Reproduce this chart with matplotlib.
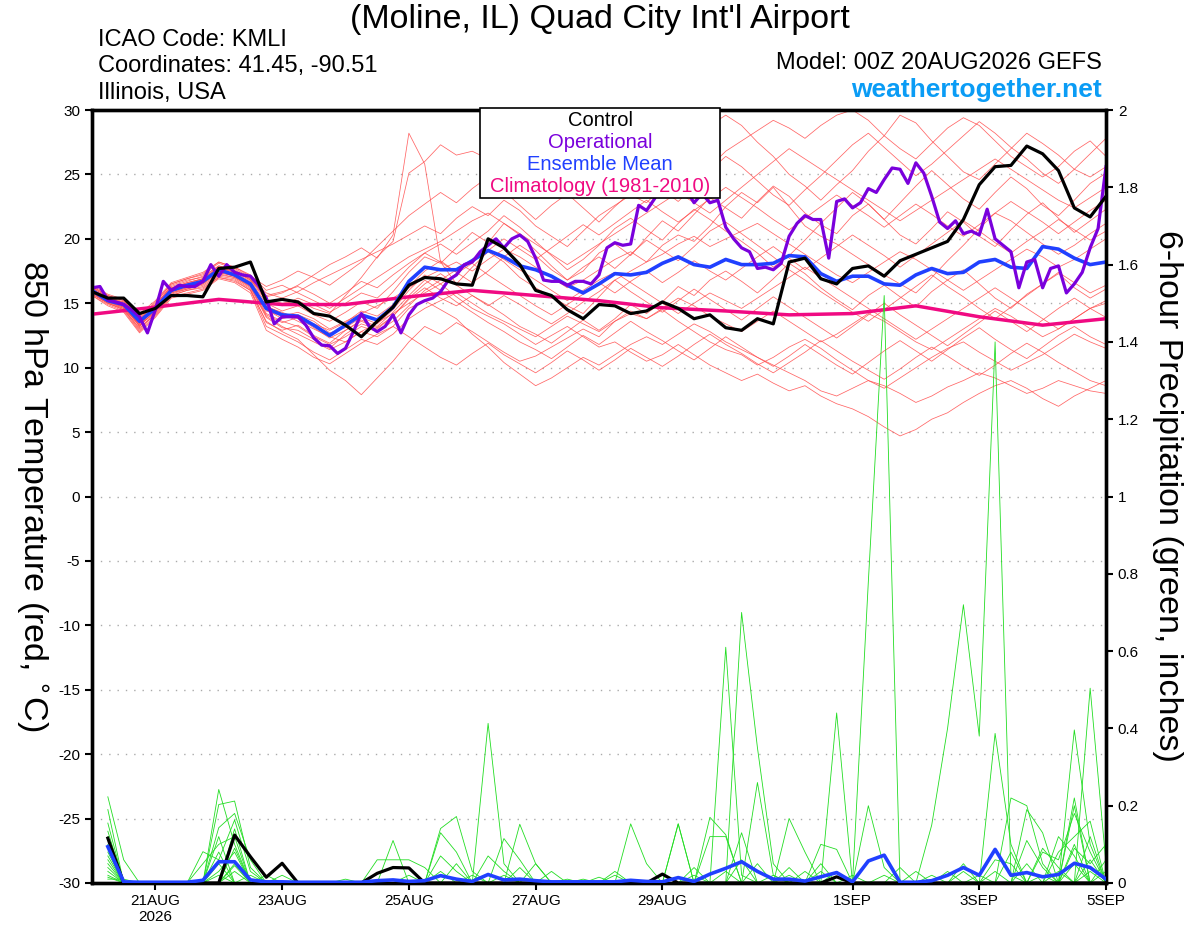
import numpy as np
import matplotlib
matplotlib.use("Agg")
from matplotlib import pyplot as plt
from matplotlib.patches import Rectangle

plt.rcParams['font.family'] = ['Liberation Sans', 'DejaVu Sans']
plt.rcParams['axes.unicode_minus'] = False

# 6-hourly times (hours after 00Z 20AUG2026)
hours6 = np.arange(0, 385, 6)
hours3 = np.arange(0, 385, 3)
hours_precip = np.arange(6, 385, 6)

# x tick labels
tick_hours = [24, 72, 120, 168, 216, 288, 336, 384]
tick_labels = ["21AUG\n2026", "23AUG", "25AUG", "27AUG", "29AUG", "1SEP", "3SEP", "5SEP"]

# control (black), 850 hPa temperature
control_t = [15.9, 15.4, 15.4, 14.2, 14.6, 15.6, 15.6, 15.5, 17.7, 17.8, 18.2,
             15.1, 15.3, 15.1, 14.2, 14.0, 13.3, 12.4, 13.6, 14.7, 16.4,
             17.0, 16.9, 16.5, 16.4, 20.0, 19.3, 18.0, 16.0, 15.6, 14.5,
             13.8, 14.9, 14.8, 14.2, 14.4, 15.1, 14.6, 13.8, 14.1, 13.1,
             12.9, 13.8, 13.4, 18.2, 18.5, 16.9, 16.5, 17.7, 17.9, 17.1,
             18.3, 18.8, 19.3, 19.8, 21.5, 24.2, 25.6, 25.7, 27.2, 26.6,
             25.3, 22.4, 21.7, 23.3]

# ensemble mean (blue)
mean_t = [16.0, 15.2, 14.9, 13.6, 14.6, 16.0, 16.4, 16.7, 17.6, 17.2, 16.5,
          14.6, 14.1, 14.0, 13.3, 12.5, 13.3, 14.1, 13.7, 14.7, 16.7,
          17.8, 17.6, 17.6, 18.3, 19.1, 18.6, 17.9, 17.6, 17.1, 16.4,
          15.8, 16.5, 17.3, 17.2, 17.4, 18.1, 18.6, 18.0, 17.8, 18.4,
          18.0, 18.0, 18.1, 18.7, 18.6, 17.3, 16.7, 17.1, 17.1, 16.5,
          16.4, 17.2, 17.7, 17.3, 17.4, 18.2, 18.4, 17.8, 17.7, 19.4,
          19.2, 18.5, 18.0, 18.2]

# operational (purple), 3-hourly
oper_t = [16.2, 16.3, 15.25, 15.1, 14.9, 14.5, 13.95, 12.7, 14.5, 16.7, 16.0,
          16.4, 16.3, 16.3, 16.7, 18.0, 17.1, 18.0, 17.4, 17.2, 17.1, 16.4,
          15.4, 13.4, 13.95, 13.95, 13.95, 13.3, 12.3, 11.75, 11.7, 11.1,
          11.5, 12.8, 14.2, 13.2, 12.8, 13.2, 14.1, 12.7, 14.1, 14.9, 15.2,
          15.4, 15.9, 16.8, 17.2, 18.0, 18.2, 19.0, 19.5, 20.0, 19.3, 20.0,
          20.3, 19.8, 18.5, 16.8, 16.7, 16.7, 16.4, 16.7, 16.7, 16.5, 17.2,
          19.3, 19.7, 19.5, 19.6, 22.6, 22.2, 23.1, 24.2, 24.8, 24.5, 23.8,
          22.8, 23.5, 22.8, 23.0, 20.9, 20.0, 19.3, 19.0, 17.7,
          17.8, 17.6, 18.1, 20.2, 21.2, 21.8, 21.5, 21.5, 18.5, 22.9, 23.1,
          22.4, 22.8, 23.9, 23.6, 24.6, 25.5, 25.4, 24.3, 25.9, 25.1, 23.3,
          21.3, 20.8, 21.4, 20.4, 20.6, 20.3, 22.3, 20.0, 19.5, 19.0, 16.2,
          18.2, 18.4, 16.2, 17.7, 17.9, 15.8, 16.5, 17.4, 19.3, 20.8, 25.6]

# climatology (pink), daily
clim_hours = np.arange(0, 385, 24)
clim_t = [14.15, 14.7, 15.3, 14.9, 14.9, 15.5, 16.0, 15.6, 15.2, 14.65,
          14.4, 14.1, 14.2, 14.8, 13.95, 13.3, 13.8]

# ensemble members (red), 6-hourly
members_t = [
    [16.2, 15.5, 15.0, 13.2, 14.8, 16.4, 16.8, 17.0, 17.9, 17.5, 16.8,
     15.5, 15.8, 16.4, 17.2, 18.0, 18.6, 19.3, 18.5, 20.3, 28.2,
     25.8, 18.2, 16.5, 17.8, 19.0, 18.2, 17.0, 16.2, 15.5, 14.8, 14.2, 15.5, 16.8, 17.5, 18.2, 19.5, 20.3, 19.8, 21.0, 22.5,
     23.6, 22.8, 24.0, 22.5, 21.0, 20.2, 19.6, 18.8, 18.0, 17.2, 16.5, 15.8, 17.0, 18.3, 19.5, 20.8, 22.0, 21.4, 20.5, 19.6, 18.8, 19.5, 20.4, 21.2],
    [15.9, 15.3, 15.1, 13.8, 14.9, 16.2, 16.5, 16.9, 17.8, 17.4, 16.9,
     15.3, 15.0, 15.2, 14.6, 14.2, 15.6, 17.0, 18.6, 19.8, 25.1,
     26.0, 27.3, 26.5, 26.8, 26.2, 27.4, 26.0, 25.4, 24.8, 23.9, 24.6, 25.5, 26.3, 25.7, 26.8, 27.5, 28.4, 27.6, 28.8, 29.6,
     28.8, 27.5, 26.4, 25.0, 24.1, 23.0, 24.2, 25.3, 26.8, 28.0, 29.6, 29.0, 27.6, 26.4, 25.2, 24.6, 25.8, 27.0, 28.2, 27.4, 26.5, 25.4, 24.8, 25.6],
    [15.7, 15.0, 14.5, 12.9, 14.2, 15.6, 16.0, 16.2, 17.0, 16.8, 16.0,
     13.6, 12.8, 12.2, 11.0, 9.8, 9.0, 7.9, 9.2, 10.5, 12.0,
     13.2, 12.6, 13.5, 12.8, 12.0, 11.2, 10.5, 10.9, 11.6, 12.3, 13.0, 12.4, 13.6, 14.2, 13.8, 14.5, 13.6, 12.8, 12.0, 11.4,
     11.0, 10.2, 10.8, 11.6, 12.2, 11.5, 10.6, 9.8, 9.0, 8.4, 9.2, 10.0, 10.8, 11.5, 12.0, 11.2, 10.5, 9.8, 10.4, 11.0, 11.8, 12.6, 12.0, 11.5],
    [16.1, 15.4, 14.8, 13.5, 14.6, 15.9, 16.3, 16.6, 17.4, 17.1, 16.4,
     14.8, 14.2, 13.6, 13.0, 12.4, 12.0, 12.8, 13.5, 14.2, 15.0,
     15.8, 16.5, 15.5, 14.6, 14.0, 13.4, 12.6, 11.8, 12.5, 13.2, 12.4, 11.6, 12.0, 11.2, 10.5, 11.0, 11.8, 11.0, 10.2, 9.6,
     9.0, 9.5, 8.8, 8.2, 8.6, 7.8, 7.2, 6.8, 6.2, 5.4, 4.7, 5.2, 6.0, 6.5, 7.3, 8.0, 8.6, 9.0, 8.4, 7.6, 7.0, 7.8, 8.4, 9.0],
    [15.8, 15.1, 14.6, 13.0, 14.3, 15.8, 16.1, 16.4, 17.2, 17.0, 16.3,
     14.0, 13.2, 12.6, 12.0, 11.4, 12.0, 12.8, 12.4, 13.2, 14.6,
     15.2, 14.5, 13.8, 12.6, 11.6, 10.4, 9.5, 8.6, 9.2, 10.0, 10.8, 10.2, 11.0, 11.8, 12.4, 11.8, 12.6, 13.4, 12.8, 12.0,
     11.4, 10.8, 10.2, 9.6, 9.0, 8.2, 7.8, 8.4, 9.0, 8.6, 8.0, 7.3, 7.8, 8.5, 9.0, 9.6, 9.2, 8.6, 8.0, 8.4, 9.0, 8.6, 8.2, 8.0],
    [16.3, 15.6, 15.2, 14.0, 15.0, 16.5, 16.9, 17.2, 18.1, 17.7, 17.0,
     15.8, 15.4, 15.9, 16.6, 17.2, 17.8, 18.4, 19.0, 19.6, 20.3,
     21.0, 20.4, 21.6, 22.5, 21.8, 23.0, 22.2, 21.0, 20.2, 19.4, 20.6, 21.8, 22.6, 23.4, 22.8, 24.0, 25.2, 24.6, 25.6, 26.8,
     27.6, 28.4, 29.2, 28.6, 27.8, 28.8, 29.6, 30.0, 29.2, 28.0, 27.0, 26.2, 27.4, 28.6, 29.4, 28.8, 27.6, 26.4, 25.6, 24.8, 25.6, 26.8, 27.6, 26.4],
    [16.0, 15.2, 14.8, 13.4, 14.5, 16.0, 16.4, 16.8, 17.6, 17.3, 16.6,
     14.4, 14.0, 14.3, 13.8, 13.0, 13.6, 14.2, 14.8, 15.4, 16.2,
     17.0, 17.6, 18.2, 17.5, 18.4, 19.2, 18.6, 17.8, 17.0, 16.2, 16.8, 17.6, 18.4, 19.0, 18.2, 18.8, 19.6, 20.2, 19.4, 20.0,
     20.6, 21.2, 20.4, 19.6, 18.8, 18.0, 17.2, 16.6, 17.4, 18.2, 19.0, 18.4, 17.6, 16.8, 16.0, 16.8, 17.6, 18.4, 19.2, 18.6, 17.8, 18.4, 19.2, 20.0],
    [15.6, 14.9, 14.4, 12.8, 14.0, 15.5, 15.8, 16.1, 17.0, 16.7, 16.0,
     13.2, 12.6, 12.0, 11.2, 10.6, 11.4, 12.2, 11.8, 12.6, 13.8,
     14.6, 15.2, 15.8, 15.0, 14.2, 13.6, 13.0, 12.4, 13.2, 14.0, 13.4, 12.8, 13.6, 14.4, 13.8, 14.6, 15.4, 14.8, 14.0, 13.4,
     12.8, 13.6, 14.4, 13.6, 12.8, 12.0, 12.6, 13.4, 14.2, 13.6, 12.8, 12.0, 11.4, 12.2, 13.0, 13.8, 14.6, 14.0, 13.2, 12.4, 13.0, 13.8, 14.6, 15.2],
    [16.4, 15.7, 15.3, 14.2, 15.2, 16.6, 17.0, 17.4, 18.2, 17.8, 17.2,
     16.0, 16.4, 15.8, 15.2, 14.6, 15.4, 16.2, 17.0, 17.8, 18.6,
     19.2, 19.8, 20.6, 21.4, 22.0, 21.2, 20.4, 19.6, 18.8, 18.0, 18.8, 19.6, 20.4, 21.2, 22.0, 22.8, 23.6, 22.8, 22.0, 23.0,
     24.0, 25.0, 26.0, 27.0, 26.2, 25.4, 24.6, 23.8, 23.0, 22.2, 21.4, 22.2, 23.0, 23.8, 24.6, 25.4, 26.2, 25.4, 24.6, 23.8, 23.0, 22.4, 23.2, 24.0],
    [15.9, 15.2, 14.7, 13.2, 14.4, 15.8, 16.2, 16.5, 17.5, 17.2, 16.5,
     14.2, 13.6, 13.2, 12.4, 11.8, 12.4, 13.2, 12.8, 13.6, 14.8,
     16.0, 16.8, 17.6, 18.4, 19.2, 18.4, 17.6, 16.8, 16.0, 15.2, 16.0, 16.8, 17.4, 16.6, 15.8, 15.0, 14.2, 15.0, 15.8, 15.2,
     14.6, 15.4, 16.2, 17.0, 17.8, 17.0, 16.2, 15.4, 14.6, 13.8, 13.0, 12.2, 13.0, 13.8, 14.6, 15.4, 16.2, 15.4, 14.6, 13.8, 13.0, 13.8, 14.6, 15.0],
    [16.1, 15.3, 15.0, 13.7, 14.7, 16.1, 16.6, 16.9, 17.7, 17.4, 16.7,
     15.0, 14.4, 14.8, 14.1, 13.6, 14.3, 15.1, 14.6, 15.9, 17.4,
     18.6, 18.1, 19.3, 20.5, 19.7, 21.2, 20.3, 19.1, 17.9, 16.8, 17.5, 18.9, 19.6, 18.7, 20.1, 21.4, 20.6, 21.9, 23.2, 22.4,
     21.6, 22.9, 24.1, 23.3, 22.0, 21.1, 20.4, 21.8, 22.7, 21.5, 20.3, 19.6, 20.8, 22.1, 21.3, 20.2, 19.4, 20.7, 21.9, 22.8, 21.6, 20.5, 21.4, 22.3],
    [15.8, 15.0, 14.6, 13.3, 14.3, 15.7, 16.1, 16.5, 17.3, 17.0, 16.2,
     13.9, 13.1, 12.9, 12.2, 11.5, 12.6, 13.4, 13.0, 14.0, 15.3,
     16.2, 15.4, 14.8, 15.6, 14.9, 14.1, 13.2, 12.6, 11.9, 12.8, 13.7, 12.9, 13.8, 14.9, 14.2, 15.1, 16.3, 15.6, 16.8, 17.5,
     16.7, 15.8, 16.9, 18.1, 17.3, 16.2, 15.3, 14.5, 15.6, 16.4, 15.5, 14.7, 15.9, 16.8, 17.6, 16.5, 15.4, 14.6, 15.7, 16.5, 17.3, 16.2, 15.4, 16.1],
    [16.2, 15.5, 15.1, 13.9, 14.9, 16.3, 16.7, 17.1, 17.9, 17.6, 16.9,
     15.6, 15.9, 16.3, 15.7, 15.0, 15.8, 16.7, 16.2, 17.2, 18.1,
     18.9, 19.6, 18.8, 19.7, 20.6, 21.8, 20.9, 19.8, 18.7, 17.6, 18.4, 19.5, 20.8, 21.6, 20.7, 19.9, 21.2, 22.3, 21.5, 20.6,
     19.8, 18.9, 17.8, 18.7, 19.9, 21.2, 22.4, 23.6, 22.7, 21.5, 22.8, 24.1, 25.3, 24.2, 23.1, 22.3, 23.6, 24.8, 23.9, 22.6, 21.8, 23.0, 24.3, 25.1],
    [15.7, 15.0, 14.5, 13.1, 14.1, 15.6, 16.0, 16.3, 17.1, 16.9, 16.1,
     13.5, 12.9, 13.3, 12.5, 11.9, 12.9, 13.7, 13.2, 14.3, 15.6,
     16.8, 16.0, 15.1, 14.3, 13.5, 12.8, 12.0, 11.4, 10.7, 11.6, 12.5, 11.8, 12.7, 13.6, 12.8, 12.1, 11.3, 10.6, 11.5, 12.4,
     11.6, 10.8, 10.1, 10.9, 11.8, 11.0, 10.2, 9.5, 10.4, 11.3, 12.1, 11.3, 10.5, 11.4, 12.3, 13.1, 12.2, 11.4, 10.7, 11.6, 12.5, 13.2, 12.4, 11.8],
    [16.0, 15.3, 14.9, 13.6, 14.6, 16.1, 16.4, 16.8, 17.6, 17.3, 16.6,
     14.7, 14.3, 13.8, 13.4, 12.9, 13.5, 14.4, 14.0, 14.9, 16.3,
     17.5, 18.3, 17.4, 16.6, 17.5, 18.6, 19.5, 18.7, 17.6, 16.8, 17.8, 18.6, 17.7, 18.8, 19.9, 19.1, 18.3, 19.4, 20.6, 21.3,
     20.4, 19.5, 18.6, 17.6, 16.8, 15.9, 15.1, 14.3, 13.6, 14.5, 15.4, 16.3, 17.2, 16.3, 15.5, 14.6, 13.8, 14.7, 15.6, 16.5, 17.4, 16.6, 15.8, 16.4],
    [16.3, 15.6, 15.2, 14.0, 15.1, 16.5, 16.9, 17.3, 18.2, 17.8, 17.1,
     16.3, 16.8, 17.5, 17.0, 16.4, 17.3, 18.2, 19.4, 20.6, 21.8,
     22.7, 23.6, 22.8, 23.9, 24.8, 23.7, 22.6, 21.5, 22.6, 23.5, 22.4, 21.3, 22.5, 23.6, 24.7, 23.8, 22.9, 24.1, 25.3, 26.4,
     25.6, 24.5, 23.4, 22.6, 23.8, 24.9, 26.1, 27.3, 28.2, 27.1, 26.0, 24.9, 25.8, 26.9, 28.0, 29.1, 28.2, 27.1, 26.2, 25.1, 24.3, 25.4, 26.6, 27.8],
    [15.9, 15.1, 14.7, 13.3, 14.4, 15.9, 16.3, 16.6, 17.5, 17.1, 16.4,
     14.5, 13.8, 14.1, 13.6, 12.7, 13.1, 13.9, 13.4, 14.5, 16.0,
     17.2, 16.5, 17.3, 18.1, 17.2, 16.4, 15.6, 14.8, 14.1, 14.9, 15.7, 16.6, 15.8, 16.7, 17.5, 16.6, 17.4, 18.3, 17.5, 16.8,
     17.7, 18.6, 19.4, 18.5, 17.6, 18.5, 19.4, 20.3, 19.5, 18.7, 17.8, 18.7, 19.6, 20.5, 21.4, 20.6, 19.7, 18.9, 19.8, 20.6, 21.5, 20.7, 19.9, 20.6],
    [15.6, 14.8, 14.3, 12.7, 13.9, 15.4, 15.7, 16.0, 16.9, 16.6, 15.8,
     12.9, 12.2, 11.6, 10.8, 10.3, 11.1, 11.9, 12.6, 13.2, 12.4,
     11.6, 10.8, 10.2, 11.1, 11.9, 11.0, 10.3, 9.6, 10.4, 11.3, 10.6, 9.8, 10.6, 11.5, 10.8, 10.1, 10.9, 11.8, 12.6, 11.8,
     11.1, 10.3, 9.6, 10.4, 11.2, 12.1, 11.3, 10.5, 9.8, 9.1, 9.9, 10.8, 11.6, 10.9, 10.1, 9.4, 10.2, 11.1, 11.9, 11.2, 10.4, 9.7, 9.0, 8.6],
    [16.1, 15.4, 15.0, 13.8, 14.8, 16.2, 16.6, 16.9, 17.8, 17.5, 16.8,
     15.2, 14.8, 15.4, 14.9, 14.3, 15.0, 15.8, 15.4, 16.5, 17.8,
     18.9, 18.2, 17.4, 18.3, 19.1, 20.0, 19.2, 18.4, 19.3, 20.2, 21.1, 20.3, 21.2, 22.1, 23.0, 22.1, 21.3, 22.2, 23.1, 24.0,
     23.2, 22.4, 21.5, 20.7, 21.6, 22.5, 23.4, 22.6, 21.8, 20.9, 21.8, 22.7, 21.9, 21.0, 20.2, 21.1, 22.0, 22.9, 22.1, 21.3, 20.4, 21.3, 22.2, 23.0],
    [15.8, 15.1, 14.7, 13.4, 14.5, 15.9, 16.2, 16.6, 17.4, 17.1, 16.3,
     14.1, 13.5, 13.9, 13.1, 12.3, 12.9, 13.6, 13.1, 14.0, 15.4,
     16.5, 17.3, 16.4, 15.6, 14.8, 15.6, 14.9, 14.1, 13.4, 14.2, 15.1, 15.9, 16.8, 15.9, 15.1, 14.3, 15.2, 16.1, 15.3, 14.5,
     13.7, 14.6, 15.5, 14.7, 13.9, 13.1, 12.3, 13.2, 14.1, 15.0, 14.1, 13.3, 12.5, 11.7, 12.6, 13.5, 14.4, 13.6, 12.8, 13.7, 14.6, 15.4, 14.6, 13.9],
]

# 6-hour precipitation (inches), from 06Z 20AUG
control_p = [0.116, 0, 0, 0, 0, 0, 0, 0, 0.124, 0.068, 0.015, 0.051, 0, 0, 0, 0,
             0, 0.025, 0.04, 0.039, 0, 0, 0, 0, 0, 0, 0, 0, 0, 0, 0, 0,
             0, 0, 0, 0.023, 0, 0, 0, 0, 0, 0, 0, 0, 0, 0, 0.016, 0,
             0, 0, 0, 0, 0, 0, 0, 0, 0, 0, 0, 0, 0, 0, 0, 0]

mean_p = [0.094, 0.003, 0.002, 0.002, 0.002, 0.002, 0.007, 0.055, 0.055, 0.008, 0.003, 0.003, 0.002, 0.002, 0.002, 0.002,
          0.002, 0.006, 0.008, 0.004, 0.006, 0.019, 0.01, 0.004, 0.022, 0.008, 0.01, 0.006, 0.003, 0.003, 0.003, 0.003,
          0.003, 0.007, 0.004, 0.003, 0.014, 0.004, 0.023, 0.038, 0.055, 0.03, 0.01, 0.01, 0.005, 0.016, 0.027, 0.003,
          0.057, 0.072, 0.002, 0.002, 0.006, 0.02, 0.04, 0.02, 0.087, 0.02, 0.027, 0.016, 0.022, 0.051, 0.04, 0.01]

members_p = [
    [.223, .06, 0, 0, 0, 0, 0, .242, .10, 0, 0, 0, 0, 0, 0, 0,
     0, 0, 0, 0, 0, .141, .172, .03, 0, 0, 0, 0, 0, 0, 0, 0,
     0, 0, 0, 0, 0, 0, 0, .61, .02, 0, 0, 0, 0, 0, 0, 0,
     .78, 1.52, 0, 0, 0, 0, 0, 0, 0, 0, 0, 0, 0, .396, .1, 0],
    [.19, 0, 0, 0, 0, 0, 0, .203, .212, .04, 0, 0, 0, 0, 0, 0,
     0, 0, 0, 0, 0, 0, 0, 0, .413, .05, 0, 0, 0, 0, 0, 0,
     0, 0, 0, 0, 0, 0, 0, 0, .70, .35, .05, 0, 0, 0, 0, 0,
     0, 0, 0, 0, .15, .40, .72, .38, 1.40, .02, 0, 0, 0, 0, 0, 0],
    [.155, 0, 0, 0, 0, 0, 0, .143, .18, .06, 0, 0, 0, 0, 0, 0,
     0, 0, .11, 0, 0, 0, 0, 0, 0, 0, .152, .05, 0, 0, 0, 0,
     0, 0, 0, 0, 0, 0, .17, .125, 0, 0, 0, 0, 0, 0, .44, 0,
     0, 0, 0, 0, 0, 0, 0, 0, .387, .1, 0, 0, 0, 0, .504, .05],
    [.134, 0, 0, 0, 0, 0, .081, .06, .163, .03, 0, 0, 0, 0, 0, 0,
     0, 0, 0, 0, 0, .13, .08, 0, 0, 0, 0, 0, 0, 0, 0, 0,
     0, .153, .05, 0, 0, 0, 0, 0, 0, .26, .02, 0, 0, 0, 0, 0,
     0, 0, 0, 0, 0, 0, 0, 0, 0, .22, .2, .05, 0, .22, 0, 0],
    [.10, 0, 0, 0, 0, 0, .05, .10, .12, 0, 0, 0, 0, 0, 0, 0,
     0, .06, .06, .06, .04, 0, 0, 0, 0, 0, 0, 0, 0, 0, 0, 0,
     0, 0, 0, 0, .153, 0, 0, 0, 0, 0, 0, .167, .08, 0, 0, 0,
     .2, .04, 0, 0, 0, 0, 0, 0, 0, 0, .19, .13, 0, .2, 0, 0],
    [.05, 0, 0, 0, 0, 0, 0, .03, .08, 0, 0, 0, 0, 0, 0, 0,
     0, 0, 0, 0, 0, 0, 0, 0, 0, .115, .06, 0, 0, 0, 0, 0,
     0, 0, 0, 0, .153, 0, 0, 0, .13, 0, 0, 0, 0, .10, .087, 0,
     0, 0, 0, 0, 0, 0, 0, 0, 0, 0, 0, 0, .08, .12, .16, 0],
    [.04, 0, 0, 0, 0, 0, 0, 0, .05, 0, .02, 0, 0, 0, 0, 0,
     0, 0, 0, 0, 0, .07, .03, 0, 0, 0, 0, 0, 0, 0, 0, 0,
     .03, 0, 0, 0, 0, 0, .12, .12, 0, 0, 0, 0, .03, 0, 0, 0,
     0, 0, .04, 0, 0, 0, .03, 0, 0, 0, 0, .08, .06, .18, .08, 0],
    [.03, 0, 0, 0, 0, 0, 0, .05, 0, 0, 0, .02, 0, 0, 0, 0,
     0, 0, 0, 0, 0, 0, 0, 0, .07, .03, 0, .05, 0, 0, 0, .015,
     0, 0, 0, .02, 0, 0, 0, 0, 0, 0, 0, .04, 0, .05, 0, 0,
     0, 0, 0, 0, 0, .03, 0, .02, 0, 0, .11, .04, 0, .09, .05, .1],
    [.02, 0, 0, 0, 0, 0, 0, 0, .03, 0, 0, 0, 0, 0, 0, .01,
     0, 0, 0, 0, 0, 0, 0, 0, 0, 0, 0, 0, .03, 0, .01, 0,
     0, 0, 0, 0, 0, .02, 0, 0, 0, .05, 0, 0, 0, 0, 0, .02,
     0, 0, 0, .03, 0, 0, 0, 0, .06, .05, 0, 0, .12, .07, 0, .03],
    [.01, .01, 0, 0, 0, 0, 0, .02, 0, .02, 0, 0, 0, 0, 0, 0,
     0, 0, 0, 0, 0, 0, 0, .02, 0, 0, .04, 0, 0, 0, 0, 0,
     0, 0, 0, 0, 0, 0, 0, .03, 0, 0, .02, 0, 0, 0, 0, 0,
     0, .02, 0, 0, .02, 0, 0, 0, 0, 0, 0, .09, .04, 0, .06, 0],
    [.07, 0, 0, 0, 0, 0, 0, 0, .09, 0, 0, 0, 0, 0, 0, 0,
     0, 0, 0, 0, 0, .03, 0, 0, 0, 0, 0, 0, 0, .01, 0, 0,
     0, 0, 0, 0, 0, 0, 0, 0, 0, 0, 0, 0, 0, .03, 0, 0,
     0, 0, 0, 0, 0, 0, 0, 0, 0, .08, 0, 0, 0, .1, 0, 0],
    [.08, 0, 0, 0, 0, 0, 0, .12, 0, 0, 0, 0, 0, 0, 0, 0,
     0, 0, 0, .02, 0, 0, 0, 0, 0, 0, 0, 0, 0, 0, 0, 0,
     0, 0, 0, 0, 0, 0, 0, 0, .06, 0, 0, 0, 0, 0, 0, 0,
     0, 0, 0, 0, 0, 0, .05, 0, 0, 0, 0, 0, .03, 0, .12, 0],
    [.015, 0, 0, 0, 0, 0, 0, 0, .14, 0, 0, 0, 0, 0, 0, 0,
     0, 0, 0, 0, 0, 0, .05, 0, 0, 0, 0, 0, 0, 0, 0, 0,
     0, 0, 0, 0, 0, .04, 0, 0, 0, 0, 0, 0, 0, 0, 0, 0,
     0, 0, 0, 0, 0, 0, 0, 0, 0, 0, .05, 0, 0, 0, 0, .06],
    [.06, 0, 0, 0, 0, 0, 0, .08, 0, 0, 0, 0, 0, 0, 0, 0,
     0, 0, 0, 0, 0, 0, 0, 0, 0, .02, 0, 0, 0, 0, 0, 0,
     0, 0, 0, 0, 0, 0, 0, 0, 0, 0, 0, .02, 0, 0, 0, 0,
     0, 0, 0, 0, 0, 0, 0, 0, .03, 0, 0, 0, 0, .05, 0, 0],
    [.12, 0, 0, 0, 0, 0, 0, 0, .045, 0, 0, 0, 0, 0, 0, 0,
     0, 0, 0, 0, 0, 0, 0, 0, 0, 0, 0, 0, 0, 0, 0, 0,
     .02, 0, 0, 0, 0, 0, 0, 0, 0, 0, 0, 0, 0, 0, .03, 0,
     0, 0, 0, 0, 0, 0, 0, 0, 0, 0, 0, .02, 0, 0, .03, 0],
]

for m in members_t:
    assert len(m) == len(hours6), len(m)
for m in members_p:
    assert len(m) == len(hours_precip), len(m)
assert len(oper_t) == len(hours3), len(oper_t)

red = '#ff4a4a'
green = '#22dd22'
purple = '#7a00dc'
blue = '#2040ff'
pink = '#f00a82'

fig = plt.figure(figsize=(12, 9.27), dpi=100)
ax = fig.add_axes([92 / 1200, 1 - 883 / 927, 1014 / 1200, 773 / 927])

for m in members_t:
    ax.plot(hours6, m, color=red, lw=0.55, alpha=0.85, zorder=2)
ax.plot(clim_hours, clim_t, color=pink, lw=2.5, zorder=4)
ax.plot(hours6, mean_t, color=blue, lw=2.6, zorder=5)
ax.plot(hours3, oper_t, color=purple, lw=2.3, zorder=6)
ax.plot(hours6, control_t, color='black', lw=2.3, zorder=7)

ax.set_xlim(0, 384)
ax.set_ylim(-30, 30)
ax.set_yticks(np.arange(-30, 31, 5))
for yv in range(-25, 30, 5):
    ax.axhline(yv, color='#aaaaaa', lw=1.0, ls=(0, (1, 5)), zorder=1)
ax.set_xticks(tick_hours)
ax.set_xticklabels(tick_labels, fontsize=11)
ax.tick_params(axis='both', direction='out', length=5, width=1.5, labelsize=11)
ax.tick_params(axis='x', pad=3)

ax2 = ax.twinx()
for m in members_p:
    ax2.plot(hours_precip, m, color=green, lw=0.6, zorder=2)
ax2.plot(hours_precip, mean_p, color=blue, lw=2.6, zorder=4)
ax2.plot(hours_precip, control_p, color='black', lw=2.3, zorder=3)
ax2.set_ylim(0, 2)
ax2.set_yticks(np.arange(0, 2.01, 0.2))
ax2.set_yticklabels(['0', '0.2', '0.4', '0.6', '0.8', '1', '1.2', '1.4', '1.6', '1.8', '2'])
ax2.tick_params(axis='y', direction='out', length=5, width=1.5, labelsize=11)

for a in (ax, ax2):
    for s in a.spines.values():
        s.set_linewidth(2.4)

# legend box
ax2.add_patch(Rectangle((0.3826, 0.886), 0.2367, 0.117, transform=ax2.transAxes,
                        facecolor='white', edgecolor='black', lw=1.2, zorder=20, clip_on=False))
leg_items = [("Control", 'black'), ("Operational", purple),
             ("Ensemble Mean", blue), ("Climatology (1981-2010)", pink)]
for k, (txt, col) in enumerate(leg_items):
    ax2.text(0.501, 0.987 - 0.0285 * k, txt, color=col, fontsize=14.5,
             ha='center', va='center', transform=ax2.transAxes, zorder=21)

fig.text(0.5, 0.979, "(Moline, IL) Quad City Int'l Airport", ha='center', va='center', fontsize=24.5)
fig.text(98 / 1200, 1 - 40 / 927, "ICAO Code: KMLI", ha='left', va='center', fontsize=17)
fig.text(98 / 1200, 1 - 66 / 927, "Coordinates: 41.45, -90.51", ha='left', va='center', fontsize=17)
fig.text(98 / 1200, 1 - 93 / 927, "Illinois, USA", ha='left', va='center', fontsize=17)
fig.text(1102 / 1200, 1 - 63 / 927, "Model: 00Z 20AUG2026 GEFS", ha='right', va='center', fontsize=17)
fig.text(1102 / 1200, 1 - 90 / 927, "weathertogether.net", ha='right', va='center',
         fontsize=19, fontweight='bold', color='#0a9cf5')

fig.text(31 / 1200, 1 - 496 / 927, "850 hPa Temperature (red, $^{\\circ}$C)", rotation=270,
         ha='center', va='center', fontsize=24.5)
fig.text(1168 / 1200, 1 - 496 / 927, "6-hour Precipitation (green, inches)", rotation=270,
         ha='center', va='center', fontsize=24.5)

fig.savefig("out.png", dpi=100)
